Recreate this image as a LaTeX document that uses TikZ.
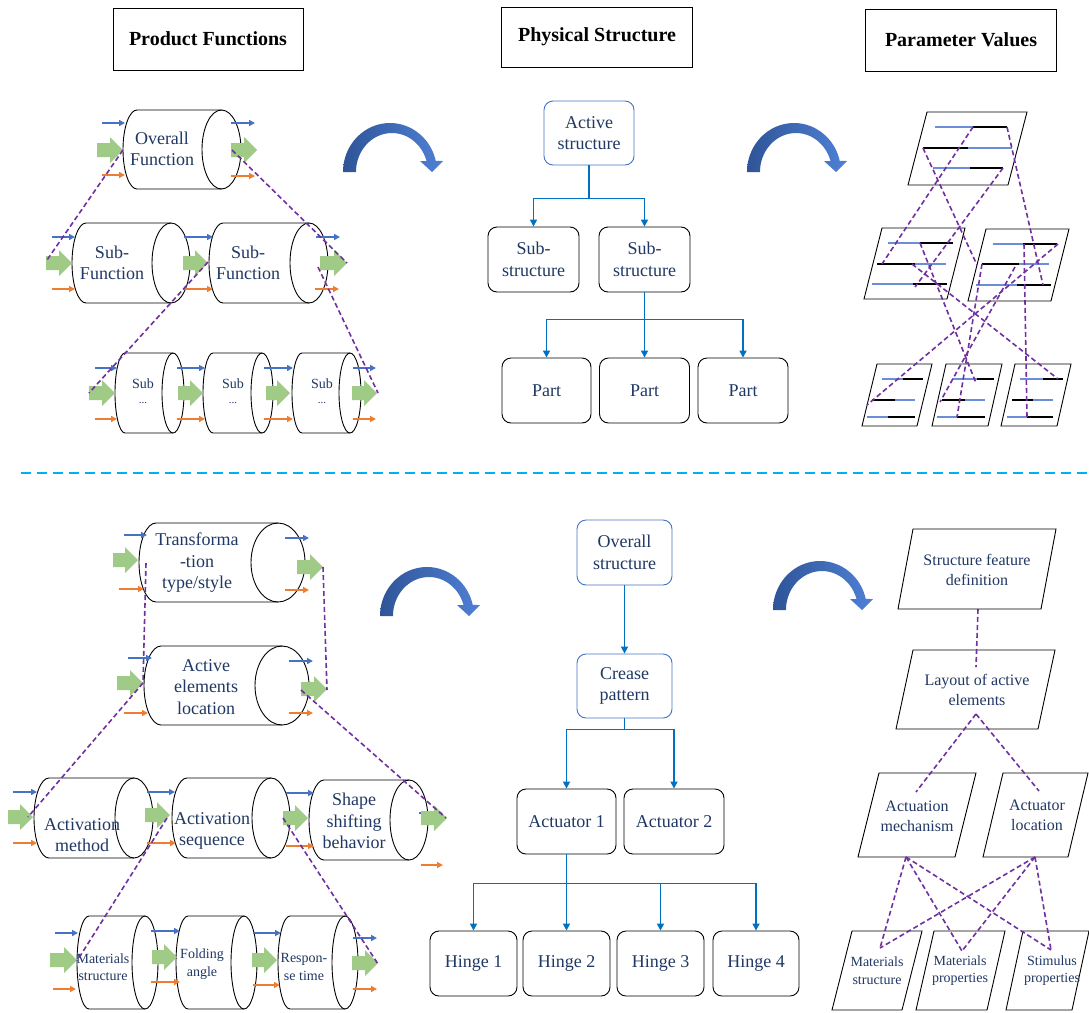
\documentclass[tikz,border=0pt]{standalone}
\usepackage{fontspec}
\setmainfont{Liberation Serif}
\usetikzlibrary{arrows.meta,calc}
\definecolor{navy}{HTML}{203864}
\definecolor{pur}{HTML}{7030A0}
\definecolor{cblue}{HTML}{4472C4}
\definecolor{corange}{HTML}{ED7D31}
\definecolor{cgreen}{HTML}{A0CB87}
\definecolor{lineblue}{HTML}{0070C0}
\definecolor{sepblue}{HTML}{00B0F0}
\definecolor{arcdark}{HTML}{2F5597}
\definecolor{arclight}{HTML}{4F80D6}
\definecolor{pblue}{HTML}{6A8FD8}
\tikzset{
  ftext/.style={text=navy, align=center, inner sep=0pt, font=\fontsize{18}{21.5}\selectfont},
  stext/.style={text=navy, align=center, inner sep=0pt, font=\fontsize{14}{17.5}\selectfont},
  mtext/.style={text=navy, align=center, inner sep=0pt, font=\fontsize{16}{20}\selectfont},
  titlebox/.style={draw, line width=0.8pt, inner sep=0pt, font=\fontsize{20}{24}\selectfont\bfseries},
  cylline/.style={draw=black, line width=0.9pt},
  ba/.style={cblue, line width=2pt, -{Triangle[length=6pt,width=6pt]}},
  oa/.style={corange, line width=2pt, -{Triangle[length=6pt,width=6pt]}},
  pdash/.style={pur, line width=1.6pt, dash pattern=on 5pt off 3pt},
  sbox/.style={draw=black, line width=0.9pt, rounded corners=9pt, inner sep=0pt, text=navy, align=center, font=\fontsize{18}{21.5}\selectfont},
  bbox/.style={sbox, draw=cblue},
  conn/.style={lineblue, line width=1.6pt, -{Triangle[length=7pt,width=7pt]}},
  paraline/.style={draw=black, line width=0.9pt},
  pbl/.style={pblue, line width=1.1pt},
  pbk/.style={black, line width=1.8pt},
}
% cylinder: x1 x2 ytop ybot rxleft rxright
\newcommand\cyldraw[6]{%
  \pgfmathsetmacro\cyM{(#3+#4)/2}%
  \pgfmathsetmacro\cyR{(#4-#3)/2}%
  \pgfmathsetmacro\cyK{0.5523*\cyR}%
  \pgfmathsetmacro\cyL{#1+#5}%
  \pgfmathsetmacro\cyLk{#1+#5-0.5523*#5}%
  \pgfmathsetmacro\cyC{#2-#6}%
  \draw[cylline] (\cyC,#3) -- (\cyL,#3) .. controls (\cyLk,#3) and (#1,{\cyM-\cyK}) .. (#1,\cyM) .. controls (#1,{\cyM+\cyK}) and (\cyLk,#4) .. (\cyL,#4) -- (\cyC,#4);
  \draw[cylline] (\cyC,\cyM) ellipse [x radius=#6, y radius=\cyR];
}
% green block arrow: x1 x2 y
\newcommand\garr[3]{%
  \fill[cgreen] (#1,{#3-7}) -- ({#2-13},{#3-7}) -- ({#2-13},{#3-13}) -- (#2,#3) -- ({#2-13},{#3+13}) -- ({#2-13},{#3+7}) -- (#1,{#3+7}) -- cycle;}
% three flow arrows: blue(x1,x2,y) green(x1,x2,y) orange(x1,x2,y)
\newcommand\flows[9]{%
  \draw[ba] (#1,#3) -- (#2,#3);
  \garr{#4}{#5}{#6}
  \draw[oa] (#7,#9) -- (#8,#9);}
% parallelogram: xTL W ytop ybot skew
\newcommand\para[5]{%
  \draw[paraline] (#1,#3) -- ({#1+#2},#3) -- ({#1+#2-#5},#4) -- ({#1-#5},#4) -- cycle;}
% parameter line: a b c y blackfirst(0/1)
\newcommand\pline[5]{%
  \ifnum#5=1
    \draw[pbk] (#1,#4) -- (#2,#4); \draw[pbl] (#2,#4) -- (#3,#4);
  \else
    \draw[pbl] (#1,#4) -- (#2,#4); \draw[pbk] (#2,#4) -- (#3,#4);
  \fi}
% curved arrow, foot at (#1)
\newcommand\bigcurve[1]{%
  \begin{scope}[shift={(#1)}, y=1pt]
    \shade[left color=arcdark, right color=arclight]
      (0,0) arc[start angle=180, end angle=13, x radius=47, y radius=49]
      -- (100,11) -- (89,0) -- (77,11) -- (83.5,11)
      arc[start angle=16.4, end angle=180, x radius=36, y radius=39]
      -- cycle;
  \end{scope}}
\begin{document}
\begin{tikzpicture}[x=1pt, y=-1pt]
\fill[white] (0,0) rectangle (1089,1012);
\useasboundingbox (0,0) rectangle (1089,1012);

% titles
\node[titlebox, minimum width=190pt, minimum height=62pt] (t1) at (208,39) {Product Functions};
\node[titlebox, minimum width=191pt, minimum height=60pt] (t2) at (597,37) {Physical Structure};
\node[titlebox, minimum width=191pt, minimum height=62pt] (t3) at (961,40) {Parameter Values};

% separator
\coordinate (sepL) at (21,473);
\coordinate (sepR) at (1089,473);
\draw[sepblue, line width=2.4pt, dash pattern=on 10pt off 6pt] (sepL) -- (sepR);

% curved arrows
\bigcurve{343,172}
\bigcurve{747,172}
\bigcurve{380,616}
\bigcurve{773,610}

% ===== top-left: functions =====
\cyldraw{123}{241}{110}{189}{14}{19.5}
\cyldraw{72}{190}{223}{303}{14}{19}
\cyldraw{209}{328}{223}{303}{14}{19}
\cyldraw{115}{184}{353}{433}{10}{11}
\cyldraw{203}{273}{353}{433}{10}{11}
\cyldraw{292}{361}{353}{433}{10}{11}
\node[ftext] (fOverall) at (162,149) {Overall\\Function};
\node[ftext] (fSub1) at (112,263) {Sub-\\Function};
\node[ftext] (fSub2) at (248,263) {Sub-\\Function};
\node[stext] (fs1) at (143,391) {Sub\\[-2pt]\fontsize{11}{12}\selectfont ...};
\node[stext] (fs2) at (233,391) {Sub\\[-2pt]\fontsize{11}{12}\selectfont ...};
\node[stext] (fs3) at (322,391) {Sub\\[-2pt]\fontsize{11}{12}\selectfont ...};

\flows{102}{125}{123}{97}{123}{150}{102}{125}{175}
\flows{231}{255}{123}{231}{257}{150}{231}{255}{176}
\flows{52}{75}{237}{46}{72}{263}{52}{75}{289}
\flows{184}{213}{237}{183}{208}{263}{183}{213}{289}
\flows{316}{340}{237}{320}{347}{263}{315}{339}{289}
\flows{95}{117}{368}{89}{115}{393}{95}{117}{419}
\flows{177}{205}{368}{178}{203}{393}{177}{205}{419}
\flows{264}{293}{368}{266}{290}{393}{264}{293}{419}
\flows{353}{376}{368}{352}{377}{393}{353}{376}{419}

\draw[pdash] (123,150) -- (47,260);
\draw[pdash] (232,150) -- (347,263);
\draw[pdash] (208,262) -- (89,393);
\draw[pdash] (318,267) -- (378,393);

% ===== top-middle: structure tree =====
\node[bbox, minimum width=90pt, minimum height=64pt] (act) at (589,133) {Active\\structure};
\node[sbox, minimum width=91pt, minimum height=65pt] (sub1) at (533.5,259.5) {Sub-\\structure};
\node[sbox, minimum width=91pt, minimum height=65pt] (sub2) at (644.5,259.5) {Sub-\\structure};
\node[sbox, minimum width=89pt, minimum height=65pt] (p1) at (546.5,390.5) {Part};
\node[sbox, minimum width=90pt, minimum height=65pt] (p2) at (644.5,390.5) {Part};
\node[sbox, minimum width=90pt, minimum height=65pt] (p3) at (743,390.5) {Part};
\draw[conn] (act.south) -- ++(0,33) -| (sub1.north);
\draw[conn] (act.south) -- ++(0,33) -| (sub2.north);
\draw[conn] (sub2.south) -- ++(0,27) -| (p1.north);
\draw[conn] (sub2.south) -- (p2.north);
\draw[conn] (sub2.south) -- ++(0,27) -| (p3.north);

% ===== top-right: parameter values =====
\para{927}{100}{112}{185}{19}
\para{882}{83}{228}{299}{18}
\para{986}{83}{229}{301}{18}
\para{877}{55}{364}{426}{15}
\para{946}{56}{364}{426}{14}
\para{1015}{56}{364}{426}{14}
\pline{935}{973}{1007}{127}{0}
\pline{923}{968}{1012}{148}{1}
\pline{933}{970}{1003}{168}{0}
\pline{888}{920}{953}{243}{0}
\pline{877}{915}{946}{264}{1}
\pline{872}{913}{947}{284}{0}
\pline{993}{1023}{1057}{244}{0}
\pline{982}{1019}{1049}{264}{1}
\pline{976}{1017}{1051}{285}{0}
\pline{882}{903}{923}{379}{0}
\pline{872}{895}{915}{400}{1}
\pline{867}{888}{915}{417}{0}
\pline{952}{977}{994}{379}{0}
\pline{942}{965}{985}{400}{1}
\pline{937}{957}{985}{417}{0}
\pline{1020}{1043}{1063}{379}{0}
\pline{1012}{1033}{1053}{400}{1}
\pline{1007}{1027}{1053}{417}{0}
\draw[pdash] (973,127) -- (882,264);
\draw[pdash] (923,148) -- (977,265);
\draw[pdash] (1003,168) -- (915,287);
\draw[pdash] (1007,127) -- (1043,285);
\draw[pdash] (920,243) -- (976,383);
\draw[pdash] (912,264) -- (1058,379);
\draw[pdash] (1058,244) -- (867,405);
\draw[pdash] (982,264) -- (957,417);
\draw[pdash] (1015,267) -- (940,402);
\draw[pdash] (1024,244) -- (1027,417);

% ===== bottom-left: functions =====
\cyldraw{139}{305}{523}{602}{17}{27}
\cyldraw{144}{309}{646}{725}{17}{27}
\cyldraw{34}{153}{778}{858}{15}{19}
\cyldraw{172}{290}{778}{858}{15}{19}
\cyldraw{309}{428}{780}{860}{15}{19}
\cyldraw{77}{158}{916}{1009}{12}{13}
\cyldraw{176}{257}{916}{1009}{12}{13}
\cyldraw{278}{358}{916}{1009}{12}{13}
\node[ftext] (fTrans) at (197,563) {Transforma\\-tion\\type/style};
\node[ftext] (fAel) at (206,687) {Active\\elements\\location};
\node[ftext] (fAm) at (82,835) {Activation\\method};
\node[ftext] (fAs) at (212,831) {Activation\\sequence};
\node[ftext] (fSsb) at (354,821) {Shape\\shifting\\behavior};
\node[stext] (fMs) at (103,967) {Materials\\structure};
\node[stext] (fFa) at (202,964) {Folding\\angle};
\node[stext] (fRt) at (304,967) {Respon-\\se time};

\flows{124}{147}{535}{113}{138}{560}{119}{144}{589}
\flows{285}{309}{538}{297}{323}{567}{285}{309}{590}
\flows{128}{152}{658}{117}{143}{683}{124}{148}{713}
\flows{289}{313}{661}{301}{327}{689}{289}{313}{713}
\flows{13}{37}{792}{8}{33}{817}{13}{37}{843}
\flows{147}{175}{792}{145}{170}{815}{147}{176}{843}
\flows{286}{314}{793}{283}{308}{818}{286}{314}{846}
\flows{419}{443}{813}{421}{447}{818}{421}{443}{865}
\flows{55}{78}{933}{50}{77}{960}{53}{76}{989}
\flows{151}{180}{931}{152}{177}{957}{151}{180}{982}
\flows{253}{281}{933}{252}{277}{960}{253}{280}{985}
\flows{353}{377}{938}{352}{378}{963}{353}{377}{989}

\draw[pdash] (146,563) -- (143,683);
\draw[pdash] (323,567) -- (327,690);
\draw[pdash] (143,683) -- (28,817);
\draw[pdash] (301,690) -- (446,818);
\draw[pdash] (167,818) -- (77,961);
\draw[pdash] (283,818) -- (378,964);

% ===== bottom-middle: structure tree =====
\node[bbox, minimum width=95pt, minimum height=65pt] (os) at (624.5,552.5) {Overall\\structure};
\node[bbox, minimum width=95pt, minimum height=64pt] (cp) at (624.5,686) {Crease\\pattern};
\node[sbox, minimum width=99pt, minimum height=65pt] (a1) at (566.5,821.5) {Actuator 1};
\node[sbox, minimum width=100pt, minimum height=65pt] (a2) at (674,821.5) {Actuator 2};
\node[sbox, minimum width=87pt, minimum height=65pt] (h1) at (473.5,963.5) {Hinge 1};
\node[sbox, minimum width=87pt, minimum height=65pt] (h2) at (566.5,963.5) {Hinge 2};
\node[sbox, minimum width=87pt, minimum height=65pt] (h3) at (660.5,963.5) {Hinge 3};
\node[sbox, minimum width=86pt, minimum height=65pt] (h4) at (756,963.5) {Hinge 4};
\draw[conn] (os.south) -- (cp.north);
\draw[conn] (cp.south) -- ++(0,11) -| (a1.north);
\draw[conn] (cp.south) -- ++(0,11) -| (a2.north);
\draw[conn] (a1.south) -- ++(0,29) -| (h1.north);
\draw[conn] (a1.south) -- (h2.north);
\draw[conn] (a1.south) -- ++(0,29) -| (h3.north);
\draw[conn] (a1.south) -- ++(0,29) -| (h4.north);

% ===== bottom-right: parameters =====
\para{913}{143}{529}{609}{15}
\para{913}{142}{650}{729}{17}
\para{879}{97}{773}{857}{21}
\para{1003}{85}{773}{857}{20}
\para{852}{70}{931}{1010}{20}
\para{934}{71}{931}{1010}{18}
\para{1023}{66}{931}{1010}{17}
\node[mtext] (sfd) at (977,570) {Structure feature\\definition};
\node[mtext] (loa) at (977,690) {Layout of active\\elements};
\node[mtext] (am) at (917,816.5) {Actuation\\mechanism};
\node[mtext] (al) at (1037,815) {Actuator\\location};
\node[stext] (ms) at (877,970.5) {Materials\\structure};
\node[stext] (mp) at (960,970.5) {Materials\\properties};
\node[stext] (sp) at (1052,970.5) {Stimulus\\properties};
\draw[pdash] (978,609) -- (976,667);
\draw[pdash] (976,714) -- (916,792);
\draw[pdash] (976,714) -- (1039,791);
\draw[pdash] (906,857) -- (880,948);
\draw[pdash] (906,857) -- (962,951);
\draw[pdash] (906,857) -- (1051,950);
\draw[pdash] (1035,857) -- (880,948);
\draw[pdash] (1035,857) -- (962,951);
\draw[pdash] (1035,857) -- (1051,950);
\end{tikzpicture}
\end{document}
